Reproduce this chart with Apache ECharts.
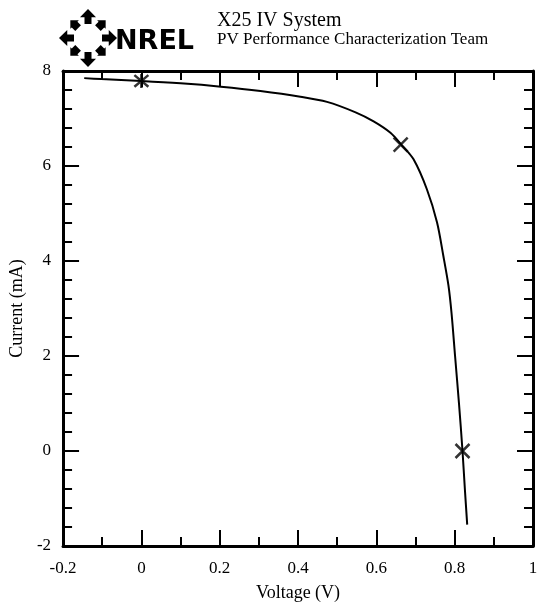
<!DOCTYPE html>
<html><head><meta charset="utf-8">
<script src="https://cdn.jsdelivr.net/npm/echarts@6/dist/echarts.min.js"></script>
<style>html,body{margin:0;padding:0;background:#fff}#c{width:541px;height:607px}</style>
</head><body><div id="c"></div>
<script>
const voltage = [-0.146,-0.103,0,0.10,0.203,0.304,0.406,0.474,0.547,0.593,0.636,0.666,0.695,0.729,0.755,0.771,0.784,0.792,0.801,0.811,0.82,0.826,0.832];
const current = [7.85,7.83,7.79,7.74,7.67,7.58,7.46,7.35,7.13,6.94,6.70,6.43,6.14,5.51,4.81,4.11,3.49,2.9,2.0,1.0,0,-0.8,-1.55];
const markVoltage = [0, 0.662, 0.82];
const markCurrent = [7.79, 6.45, 0];
const xTicks = [-0.2, 0, 0.2, 0.4, 0.6, 0.8, 1];
const yTicks = [-2, 0, 2, 4, 6, 8];
const titleLine1 = 'X25 IV System';
const titleLine2 = 'PV Performance Characterization Team';

const font = 'Liberation Serif, Times New Roman, serif';
const chart = echarts.init(document.getElementById('c'));
const crossPath = 'path://M0,0L10,10M10,0L0,10';
const starPath = 'path://M0,0L10,10M10,0L0,10M5,-1L5,11';

const tickCommon = {inside: true, length: 16, lineStyle: {color: '#000', width: 2}};
const minorCommon = {show: true, length: 9, lineStyle: {color: '#000', width: 2}};
const lineCommon = {show: true, onZero: false, lineStyle: {color: '#000', width: 3}};

// logo arrows
const cx = 88, cy = 38;
const logo = [];
for (let i = 0; i < 8; i++) {
  const a = i * Math.PI / 4;
  const main = i % 2 === 0;
  const r1 = 14, r2 = main ? 29 : 25;
  const ux = Math.cos(a), uy = Math.sin(a), px = -uy, py = ux;
  const tipx = cx + ux * r2, tipy = cy + uy * r2;
  const bx = cx + ux * r1, by = cy + uy * r1;
  const mx = cx + ux * (r1 + (r2 - r1) * 0.45), my = cy + uy * (r1 + (r2 - r1) * 0.45);
  const w = main ? 8 : 6, s = main ? 3.5 : 4;
  logo.push({type: 'polygon', shape: {points: [[tipx, tipy], [mx + px * w, my + py * w], [mx + px * s, my + py * s], [bx + px * s, by + py * s], [bx - px * s, by - py * s], [mx - px * s, my - py * s], [mx - px * w, my - py * w]]}, style: {fill: '#000'}});
}
logo.push({type: 'text', left: 115, top: 28, style: {text: 'NREL', font: 'bold 27px DejaVu Sans, sans-serif', fill: '#000'}});
logo.push({type: 'text', left: 217, top: 11, style: {text: titleLine1, font: '20px ' + font, fill: '#000'}});
logo.push({type: 'text', left: 217, top: 31, style: {text: titleLine2, font: '17px ' + font, fill: '#000'}});

chart.setOption({
  animation: false,
  backgroundColor: '#fff',
  grid: {left: 62, right: 8, top: 71, bottom: 58},
  graphic: logo,
  xAxis: [{
    type: 'value', min: -0.2, max: 1, interval: 0.2, position: 'bottom',
    name: 'Voltage (V)', nameLocation: 'middle', nameGap: 38,
    nameTextStyle: {fontFamily: font, fontSize: 18, color: '#000'},
    axisLine: lineCommon, axisTick: tickCommon, minorTick: Object.assign({splitNumber: 2}, minorCommon),
    splitLine: {show: false},
    axisLabel: {fontFamily: font, fontSize: 17, color: '#000', margin: 14, formatter: v => String(Math.round(v * 10) / 10)}
  }, {
    type: 'value', min: -0.2, max: 1, interval: 0.2, position: 'top',
    axisLine: lineCommon, axisTick: tickCommon, minorTick: Object.assign({splitNumber: 2}, minorCommon),
    splitLine: {show: false}, axisLabel: {show: false}
  }],
  yAxis: [{
    type: 'value', min: -2, max: 8, interval: 2, position: 'left',
    name: 'Current (mA)', nameLocation: 'middle', nameGap: 36,
    nameTextStyle: {fontFamily: font, fontSize: 18, color: '#000'},
    axisLine: lineCommon, axisTick: tickCommon, minorTick: Object.assign({splitNumber: 5}, minorCommon),
    splitLine: {show: false},
    axisLabel: {fontFamily: font, fontSize: 17, color: '#000', margin: 12}
  }, {
    type: 'value', min: -2, max: 8, interval: 2, position: 'right',
    axisLine: lineCommon, axisTick: tickCommon, minorTick: Object.assign({splitNumber: 5}, minorCommon),
    splitLine: {show: false}, axisLabel: {show: false}
  }],
  series: [{
    type: 'line', data: voltage.map((v, i) => [v, current[i]]),
    showSymbol: false, lineStyle: {color: '#000', width: 2}, smooth: 0.3
  }, {
    type: 'scatter', data: markVoltage.map((v, i) => [v, markCurrent[i]]),
    symbol: function (val, p) { return p.dataIndex === 0 ? starPath : crossPath; },
    symbolSize: 14,
    itemStyle: {color: 'none', borderColor: '#000', borderWidth: 2.5}
  }]
});
</script></body></html>
